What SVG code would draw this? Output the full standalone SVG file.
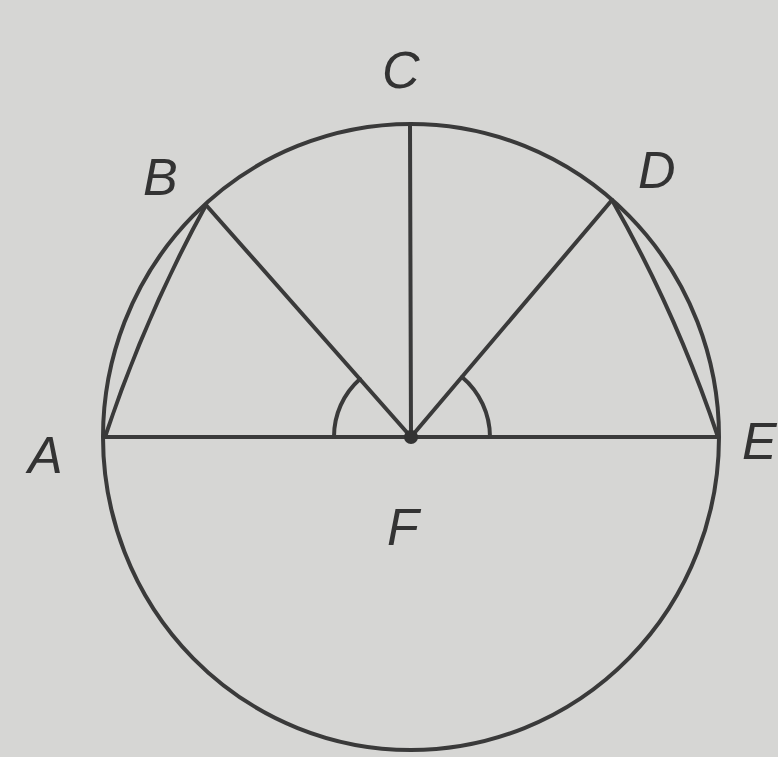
<svg xmlns="http://www.w3.org/2000/svg" width="778" height="757" viewBox="0 0 778 757">
<style>
.ln{fill:none;stroke:#3a3a3a;stroke-width:4;stroke-linecap:round}
.lb{font-family:"Liberation Sans",Arial,sans-serif;font-style:italic;font-size:52px;fill:#333}
</style>
<rect width="778" height="757" fill="#d6d6d4"/>
<g id="circle"><ellipse class="ln" cx="411" cy="437" rx="308" ry="313"/></g>
<g id="connectors">
<line class="ln" x1="105" y1="437" x2="718" y2="437"/>
<line class="ln" x1="411" y1="437" x2="410" y2="125"/>
<line class="ln" x1="411" y1="437" x2="206" y2="205"/>
<line class="ln" x1="411" y1="437" x2="612" y2="200"/>
<path class="ln" d="M105 437 Q146 314 206 205"/>
<path class="ln" d="M612 200 Q676 312 718 437"/>
<path class="ln" d="M334 437 A77 77 0 0 1 360 379"/>
<path class="ln" d="M490 437 A79 79 0 0 0 462 377"/>
</g>
<g id="F"><circle cx="411" cy="437" r="7" fill="#333"/><text class="lb" x="387" y="545">F</text></g>
<g id="A"><text class="lb" x="28" y="473">A</text></g>
<g id="B"><text class="lb" x="143" y="195">B</text></g>
<g id="C"><text class="lb" x="382" y="88">C</text></g>
<g id="D"><text class="lb" x="638" y="188">D</text></g>
<g id="E"><text class="lb" x="742" y="459">E</text></g>
</svg>
